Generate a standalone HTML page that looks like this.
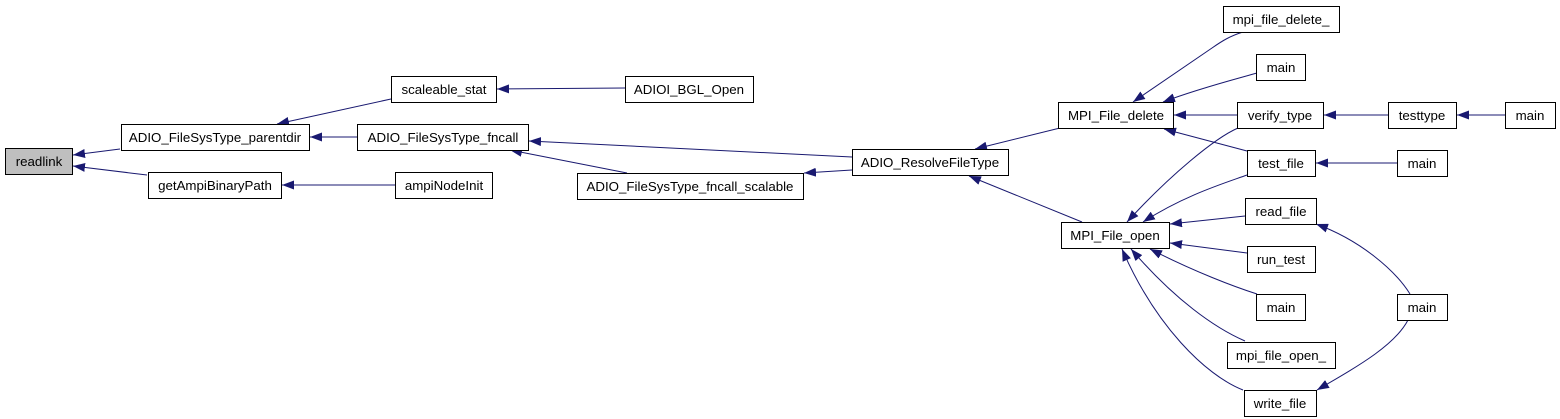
<!DOCTYPE html>
<html>
<head>
<meta charset="utf-8">
<style>
html,body{margin:0;padding:0;background:#fff;}
svg{display:block;}
text{font-family:"Liberation Sans",Arial,sans-serif;font-size:13.3px;fill:#000;}
</style>
</head>
<body>
<svg width="1560" height="419" viewBox="0 0 1560 419" xmlns="http://www.w3.org/2000/svg">
<defs>
<marker id="ah" viewBox="0 0 12 9" refX="12" refY="4.5" markerWidth="12" markerHeight="9" markerUnits="userSpaceOnUse" orient="auto">
<path d="M0,0 L12,4.5 L0,9 z" fill="#191970"/>
</marker>
</defs>
<g fill="none" stroke="#191970" stroke-width="1" marker-end="url(#ah)">
<path d="M120,149 L73,155"/>
<path d="M147,175 L73,166"/>
<path d="M391,99 L277,124"/>
<path d="M357,137 L310,137"/>
<path d="M395,185 L282,185"/>
<path d="M625,88 L497,89"/>
<path d="M852,157 L529,141"/>
<path d="M627,173 L510,150"/>
<path d="M852,170 L804,173"/>
<path d="M1060,128 L975,149"/>
<path d="M1082,222 L969,176"/>
<path d="M1243,32 C1230,36 1222,41 1212,48 L1133,102"/>
<path d="M1257,73 C1240,78 1200,88 1163,102"/>
<path d="M1237,115 L1174,115"/>
<path d="M1247,151 L1164,129"/>
<path d="M1388,115 L1324,115"/>
<path d="M1505,115 L1457,115"/>
<path d="M1397,163 L1316,163"/>
<path d="M1238,128 C1215,138 1170,175 1127,222"/>
<path d="M1247,175 C1225,183 1185,195 1143,222"/>
<path d="M1245,216 L1170,224"/>
<path d="M1247,253 L1170,243"/>
<path d="M1257,294 C1235,287 1195,272 1150,249"/>
<path d="M1245,341 C1215,328 1175,300 1131,249"/>
<path d="M1243,390 C1205,375 1155,325 1122,249"/>
<path d="M1410,294 C1395,270 1360,240 1316,224"/>
<path d="M1408,320 C1395,345 1360,365 1317,390"/>
</g>
<g stroke="#000" stroke-width="1" fill="#fff">
<rect x="5.5" y="148.5" width="67" height="26" fill="#bfbfbf"/>
<rect x="121.5" y="124.5" width="188" height="26"/>
<rect x="148.5" y="172.5" width="133" height="26"/>
<rect x="391.5" y="76.5" width="105" height="26"/>
<rect x="357.5" y="124.5" width="171" height="26"/>
<rect x="395.5" y="172.5" width="97" height="26"/>
<rect x="625.5" y="76.5" width="128" height="26"/>
<rect x="577.5" y="173.5" width="226" height="26"/>
<rect x="852.5" y="149.5" width="156" height="26"/>
<rect x="1058.5" y="102.5" width="115" height="26"/>
<rect x="1061.5" y="222.5" width="108" height="26"/>
<rect x="1223.5" y="6.5" width="116" height="26"/>
<rect x="1256.5" y="54.5" width="49" height="26"/>
<rect x="1237.5" y="102.5" width="86" height="26"/>
<rect x="1388.5" y="102.5" width="68" height="26"/>
<rect x="1505.5" y="102.5" width="50" height="26"/>
<rect x="1247.5" y="150.5" width="68" height="26"/>
<rect x="1397.5" y="150.5" width="50" height="26"/>
<rect x="1245.5" y="198.5" width="71" height="26"/>
<rect x="1247.5" y="246.5" width="68" height="26"/>
<rect x="1256.5" y="294.5" width="49" height="26"/>
<rect x="1397.5" y="294.5" width="50" height="26"/>
<rect x="1227.5" y="342.5" width="108" height="26"/>
<rect x="1244.5" y="390.5" width="72" height="26"/>
</g>
<g text-anchor="middle">
<text x="39" y="166">readlink</text>
<text x="215" y="142">ADIO_FileSysType_parentdir</text>
<text x="215" y="190">getAmpiBinaryPath</text>
<text x="444" y="94">scaleable_stat</text>
<text x="443" y="142">ADIO_FileSysType_fncall</text>
<text x="444" y="190">ampiNodeInit</text>
<text x="689" y="94">ADIOI_BGL_Open</text>
<text x="690" y="191">ADIO_FileSysType_fncall_scalable</text>
<text x="930" y="167">ADIO_ResolveFileType</text>
<text x="1116" y="120">MPI_File_delete</text>
<text x="1115" y="240">MPI_File_open</text>
<text x="1281" y="24">mpi_file_delete_</text>
<text x="1281" y="72">main</text>
<text x="1280" y="120">verify_type</text>
<text x="1422" y="120">testtype</text>
<text x="1530" y="120">main</text>
<text x="1281" y="168">test_file</text>
<text x="1422" y="168">main</text>
<text x="1281" y="216">read_file</text>
<text x="1281" y="264">run_test</text>
<text x="1281" y="312">main</text>
<text x="1422" y="312">main</text>
<text x="1281" y="360">mpi_file_open_</text>
<text x="1280" y="408">write_file</text>
</g>
</svg>
</body>
</html>
